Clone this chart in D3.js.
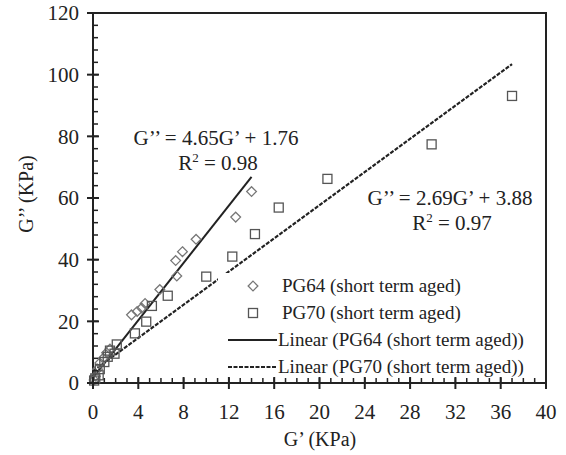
<!DOCTYPE html>
<html>
<head>
<meta charset="utf-8">
<script src="https://cdn.jsdelivr.net/npm/d3@7"></script>
<style>
  html, body { margin: 0; padding: 0; background: #fff; }
  svg, svg text { font-family: "Liberation Serif", Tinos, "Times New Roman", Times, "DejaVu Serif", serif; }
  svg { display: block; }
</style>
</head>
<body>
<svg id="chart" width="566" height="455"></svg>
<script>
// Storage modulus G' (x) vs loss modulus G'' (y), KPa
const pg64X = [0.1, 0.2, 0.4, 0.6, 0.9, 1.2, 1.5, 3.4, 3.9, 4.3, 4.6, 5.9, 7.4, 7.3, 7.9, 9.1, 12.6, 14.0];
const pg64Y = [1.0, 2.2, 4.5, 6.5, 8.0, 9.8, 11.0, 22.1, 23.2, 24.3, 25.8, 30.3, 34.7, 39.7, 42.6, 46.6, 53.8, 62.1];
const pg70X = [0.1, 0.2, 0.5, 0.6, 1.0, 1.3, 1.5, 1.9, 2.1, 3.7, 4.7, 5.2, 6.6, 10.0, 12.3, 14.3, 16.4, 20.7, 29.9, 37.0];
const pg70Y = [0.8, 1.5, 2.5, 4.5, 6.8, 8.5, 10.5, 9.5, 12.5, 16.1, 19.9, 25.0, 28.3, 34.5, 41.0, 48.3, 56.9, 66.2, 77.4, 93.1];

// Linear trend lines: slope, intercept, fitted x-range
const fit64 = { slope: 4.65, intercept: 1.76, r2: 0.98, x0: 0, x1: 14.0 };
const fit70 = { slope: 2.69, intercept: 3.88, r2: 0.97, x0: 0, x1: 37.0 };

const xTicks = [0, 4, 8, 12, 16, 20, 24, 28, 32, 36, 40];
const yTicks = [0, 20, 40, 60, 80, 100, 120];
const legendLabels = [
  "PG64 (short term aged)",
  "PG70 (short term aged)",
  "Linear (PG64 (short term aged))",
  "Linear (PG70 (short term aged))"
];

(function draw() {
  const svg = d3.select("#chart")
    .attr("font-family", "'Liberation Serif', Tinos, 'Times New Roman', 'DejaVu Serif', serif");
  const pL = 93, pR = 546, pT = 13, pB = 383;
  const x = d3.scaleLinear().domain([0, 40]).range([pL, pR]);
  const y = d3.scaleLinear().domain([0, 120]).range([pB, pT]);
  const ink = "#222";
  const dash = "4,1.5";

  // Frame
  svg.append("rect")
    .attr("x", pL).attr("y", pT)
    .attr("width", pR - pL).attr("height", pB - pT)
    .attr("fill", "none").attr("stroke", ink).attr("stroke-width", 2);

  // Trend lines
  const line = d3.line().x(d => x(d[0])).y(d => y(d[1]));
  const fitPts = f => [[f.x0, f.intercept + f.slope * f.x0], [f.x1, f.intercept + f.slope * f.x1]];
  svg.append("path").attr("d", line(fitPts(fit70)))
    .attr("fill", "none").attr("stroke", ink).attr("stroke-width", 2.2)
    .attr("stroke-dasharray", dash);
  svg.append("path").attr("d", line(fitPts(fit64)))
    .attr("fill", "none").attr("stroke", ink).attr("stroke-width", 2);

  // Markers
  const grey = "#777";
  const pg64 = pg64X.map((v, i) => [v, pg64Y[i]]);
  const pg70 = pg70X.map((v, i) => [v, pg70Y[i]]);
  const diamond = d3.symbol().type(d3.symbolDiamond2).size(60);
  svg.append("g").selectAll("path").data(pg64).join("path")
    .attr("d", diamond)
    .attr("transform", d => `translate(${x(d[0])},${y(d[1])})`)
    .attr("fill", "none").attr("stroke", grey).attr("stroke-width", 1.3);
  svg.append("g").selectAll("rect").data(pg70).join("rect")
    .attr("x", d => x(d[0]) - 4.5).attr("y", d => y(d[1]) - 4.5)
    .attr("width", 9).attr("height", 9)
    .attr("fill", "none").attr("stroke", "#555").attr("stroke-width", 1.3);

  // Legend (opaque box over the plot)
  const lg = svg.append("g");
  lg.append("rect").attr("x", 218).attr("y", 273).attr("width", 326).attr("height", 108).attr("fill", "#fff");
  const rows = [286, 313, 340, 367];
  lg.append("path").attr("d", diamond)
    .attr("transform", `translate(253,${rows[0]})`)
    .attr("fill", "none").attr("stroke", grey).attr("stroke-width", 1.3);
  lg.append("rect").attr("x", 248.5).attr("y", rows[1] - 4.5).attr("width", 9).attr("height", 9)
    .attr("fill", "none").attr("stroke", "#555").attr("stroke-width", 1.3);
  lg.append("line").attr("x1", 228).attr("x2", 277).attr("y1", rows[2]).attr("y2", rows[2])
    .attr("stroke", ink).attr("stroke-width", 2);
  lg.append("line").attr("x1", 228).attr("x2", 277).attr("y1", rows[3]).attr("y2", rows[3])
    .attr("stroke", ink).attr("stroke-width", 2.2).attr("stroke-dasharray", dash);
  legendLabels.forEach((t, i) => {
    lg.append("text").attr("x", i < 2 ? 282 : 278).attr("y", rows[i]).attr("dy", "0.33em")
      .attr("font-size", 19).attr("fill", ink).text(t);
  });

  // Axes: majors cross the axis, minors point inward
  const minorX = d3.range(0, 40.001, 1);
  const minorY = d3.range(0, 120.001, 4);
  const gx = svg.append("g");
  gx.selectAll("line.minor").data(minorX).join("line").attr("class", "minor")
    .attr("x1", d => x(d)).attr("x2", d => x(d)).attr("y1", pB).attr("y2", pB - 5)
    .attr("stroke", ink).attr("stroke-width", 1.5);
  gx.selectAll("line.major").data(xTicks).join("line").attr("class", "major")
    .attr("x1", d => x(d)).attr("x2", d => x(d)).attr("y1", pB + 6).attr("y2", pB - 6)
    .attr("stroke", ink).attr("stroke-width", 2);
  gx.selectAll("text").data(xTicks).join("text")
    .attr("x", d => x(d)).attr("y", 419).attr("text-anchor", "middle")
    .attr("font-size", 21).attr("fill", ink).text(d => d);

  const gy = svg.append("g");
  gy.selectAll("line.minor").data(minorY).join("line").attr("class", "minor")
    .attr("x1", pL).attr("x2", pL + 5).attr("y1", d => y(d)).attr("y2", d => y(d))
    .attr("stroke", ink).attr("stroke-width", 1.5);
  gy.selectAll("line.major").data(yTicks).join("line").attr("class", "major")
    .attr("x1", pL - 6).attr("x2", pL + 6).attr("y1", d => y(d)).attr("y2", d => y(d))
    .attr("stroke", ink).attr("stroke-width", 2);
  gy.selectAll("text").data(yTicks).join("text")
    .attr("x", 79).attr("y", d => y(d)).attr("dy", "0.35em").attr("text-anchor", "end")
    .attr("font-size", 21).attr("fill", ink).text(d => d);

  // Axis titles
  svg.append("text").attr("x", 320).attr("y", 446).attr("text-anchor", "middle")
    .attr("font-size", 20).attr("fill", ink).text("G’ (KPa)");
  svg.append("text").attr("transform", "translate(33,194) rotate(-90)").attr("text-anchor", "middle")
    .attr("font-size", 20).attr("fill", ink).text("G’’ (KPa)");

  // Regression annotations
  function eq(cx, cy, f) {
    svg.append("text").attr("x", cx).attr("y", cy).attr("text-anchor", "middle")
      .attr("font-size", 21).attr("fill", ink)
      .text(`G’’ = ${f.slope.toFixed(2)}G’ + ${f.intercept.toFixed(2)}`);
    const t = svg.append("text").attr("x", cx + 2).attr("y", cy + 25).attr("text-anchor", "middle")
      .attr("font-size", 21).attr("fill", ink);
    t.append("tspan").text("R");
    t.append("tspan").attr("font-size", 13).attr("dy", -8).text("2");
    t.append("tspan").attr("dy", 8).text(` = ${f.r2.toFixed(2)}`);
  }
  eq(216, 145, fit64);
  eq(450, 205, fit70);
})();
</script>
</body>
</html>
